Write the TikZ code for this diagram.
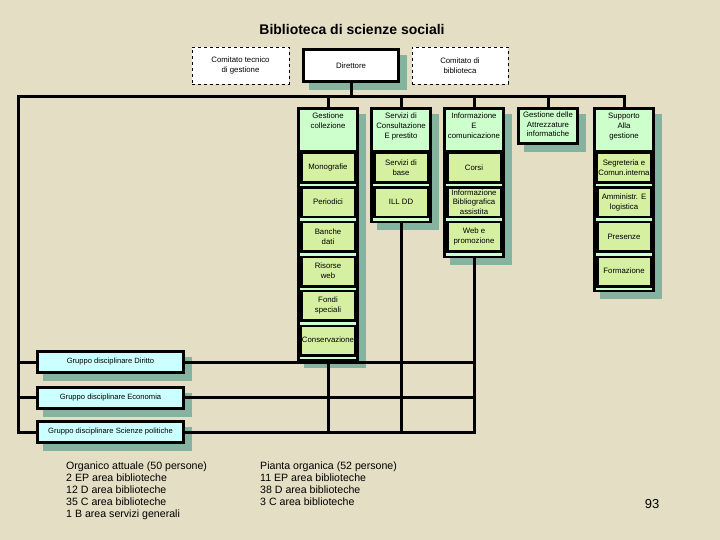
\documentclass[tikz,border=0pt]{standalone}
\usepackage{fontspec}
\setmainfont{Liberation Sans}
\usetikzlibrary{backgrounds}
\definecolor{bgc}{RGB}{227,222,196}
\definecolor{shc}{RGB}{134,178,160}
\definecolor{hdrc}{RGB}{204,255,204}
\definecolor{subc}{RGB}{212,240,160}
\definecolor{grpc}{RGB}{204,255,255}
\newcommand\bxf{\fontsize{7.8}{10}\selectfont}
\newcommand\shd[1]{\fill[shc] ([shift={(7,7)}]#1.north west) rectangle ([shift={(7,7)}]#1.south east);}
\newcommand\pale[2]{\fill[hdrc] (#1-28,#2) rectangle (#1+28,#2+2.5);}
\begin{document}
\begin{tikzpicture}[x=1pt,y=-1pt,
 conn/.style={line width=3pt, draw=black},
 colbox/.style={fill=black, inner sep=0pt, anchor=north, minimum width=62pt},
 hdr/.style={fill=hdrc, inner sep=0pt, anchor=north, minimum width=56pt, minimum height=40pt},
 hdrtxt/.style={anchor=north, inner sep=0pt, align=center, font=\bxf},
 sub/.style={fill=subc, inner sep=0pt, anchor=north, minimum width=51pt, minimum height=27pt, align=center, font=\bxf},
 grp/.style={draw=black, line width=3pt, fill=grpc, minimum width=146pt, minimum height=21pt, inner sep=0pt, font=\fontsize{7.6}{10}\selectfont},
 dashbox/.style={draw=black, dashed, line width=0.8pt, fill=white, align=center, font=\bxf, inner sep=0pt, minimum height=37pt},
 dirbox/.style={draw=black, line width=3pt, fill=white, font=\bxf, minimum width=95pt, minimum height=32pt},
 plain/.style={inner sep=0pt, align=left, anchor=north west, font=\fontsize{10.6}{12}\selectfont}
]
\useasboundingbox (0,0) rectangle (720,540);

\node[anchor=base, inner sep=0pt, font=\fontsize{14}{16}\selectfont\bfseries] (title) at (352,35) {Biblioteca di scienze sociali};

\node[dashbox, minimum width=97pt] (ct) at (240.5,65.5) {Comitato tecnico\\di gestione};
\node[dirbox] (dir) at (351,65.5) {Direttore};
\node[dashbox, minimum width=96pt] (cb) at (460,65.5) {Comitato di\\biblioteca};

% column 1
\node[colbox, minimum height=254pt] (c1) at (328,107) {};
\node[hdr] (c1h) at (328,110) {};
\node[hdrtxt] (c1t) at (328,113) {Gestione\\collezione};
\node[sub] (c1a) at (328,154) {Monografie};
\node[sub] (c1b) at (328,188.5) {Periodici};
\node[sub] (c1c) at (328,223) {Banche\\dati};
\node[sub] (c1d) at (328,257.5) {Risorse\\web};
\node[sub] (c1e) at (328,292) {Fondi\\speciali};
\node[sub] (c1f) at (328,326.5) {Conservazione};
\pale{328}{184}\pale{328}{218.5}\pale{328}{253}\pale{328}{287.5}\pale{328}{322}\pale{328}{356.5}

% column 2
\node[colbox, minimum height=116pt] (c2) at (401,107) {};
\node[hdr] (c2h) at (401,110) {};
\node[hdrtxt] (c2t) at (401,113) {Servizi di\\Consultazione\\E prestito};
\node[sub] (c2a) at (401,154) {Servizi di\\base};
\node[sub] (c2b) at (401,188.5) {ILL DD};
\pale{401}{184}\pale{401}{218.5}

% column 3
\node[colbox, minimum height=151pt] (c3) at (474,107) {};
\node[hdr] (c3h) at (474,110) {};
\node[hdrtxt] (c3t) at (474,113) {Informazione\\E\\comunicazione};
\node[sub] (c3a) at (474,154) {Corsi};
\node[sub, font=\fontsize{7.8}{9.3}\selectfont] (c3b) at (474,188.5) {Informazione\\Bibliografica\\assistita};
\node[sub] (c3c) at (474,223) {Web e\\promozione};
\pale{474}{184}\pale{474}{218.5}\pale{474}{253}

% column 4
\node[colbox, minimum height=38pt] (c4) at (548,107) {};
\node[hdr, minimum height=32pt] (c4h) at (548,110) {};
\node[hdrtxt, font=\fontsize{7.8}{9.5}\selectfont] (c4t) at (548,112) {Gestione delle\\Attrezzature\\informatiche};

% column 5
\node[colbox, minimum height=185pt] (c5) at (624,107) {};
\node[hdr] (c5h) at (624,110) {};
\node[hdrtxt] (c5t) at (624,113) {Supporto\\Alla\\gestione};
\node[sub] (c5a) at (624,154) {Segreteria e\\Comun.interna};
\node[sub] (c5b) at (624,188.5) {Amministr. E\\logistica};
\node[sub] (c5c) at (624,223) {Presenze};
\node[sub] (c5d) at (624,257.5) {Formazione};
\pale{624}{184}\pale{624}{218.5}\pale{624}{253}\pale{624}{287.5}

% groups
\node[grp] (g1) at (110.5,362) {Gruppo disciplinare Diritto};
\node[grp] (g2) at (110.5,397.5) {Gruppo disciplinare Economia};
\node[grp] (g3) at (110.5,432) {Gruppo disciplinare Scienze politiche};

% bottom texts
\node[plain] (org) at (66,461.5) {Organico attuale (50 persone)\\2 EP area biblioteche\\12 D area biblioteche\\35 C area biblioteche\\1 B area servizi generali};
\node[plain] (pia) at (260,461.5) {Pianta organica (52 persone)\\11 EP area biblioteche\\38 D area biblioteche\\3 C area biblioteche};
\node[inner sep=0pt, font=\fontsize{13}{15}\selectfont] (pg) at (652,504) {93};

\begin{pgfonlayer}{background}
\fill[bgc] (0,0) rectangle (720,540);
\shd{dir}\shd{c1}\shd{c2}\shd{c3}\shd{c4}\shd{c5}\shd{g1}\shd{g2}\shd{g3}
\coordinate (gL) at (18,97);
\draw[conn] (dir.south) -- (dir.south |- gL);
\draw[conn] (g3.west) -| (gL) -| (c5.north);
\foreach \c in {c1,c2,c3,c4} \draw[conn] (\c.north) -- (\c.north |- gL);
\draw[conn] (g1.west) -- (g1.west -| gL);
\draw[conn] (g2.west) -- (g2.west -| gL);
\draw[conn] (g1.east) -- (g1.east -| c3.south);
\draw[conn] (g2.east) -- (g2.east -| c3.south);
\draw[conn] (g3.east) -| (c3.south);
\draw[conn] (c1.south) -- (c1.south |- g3.east);
\draw[conn] (c2.south) -- (c2.south |- g3.east);
\end{pgfonlayer}
\end{tikzpicture}
\end{document}
